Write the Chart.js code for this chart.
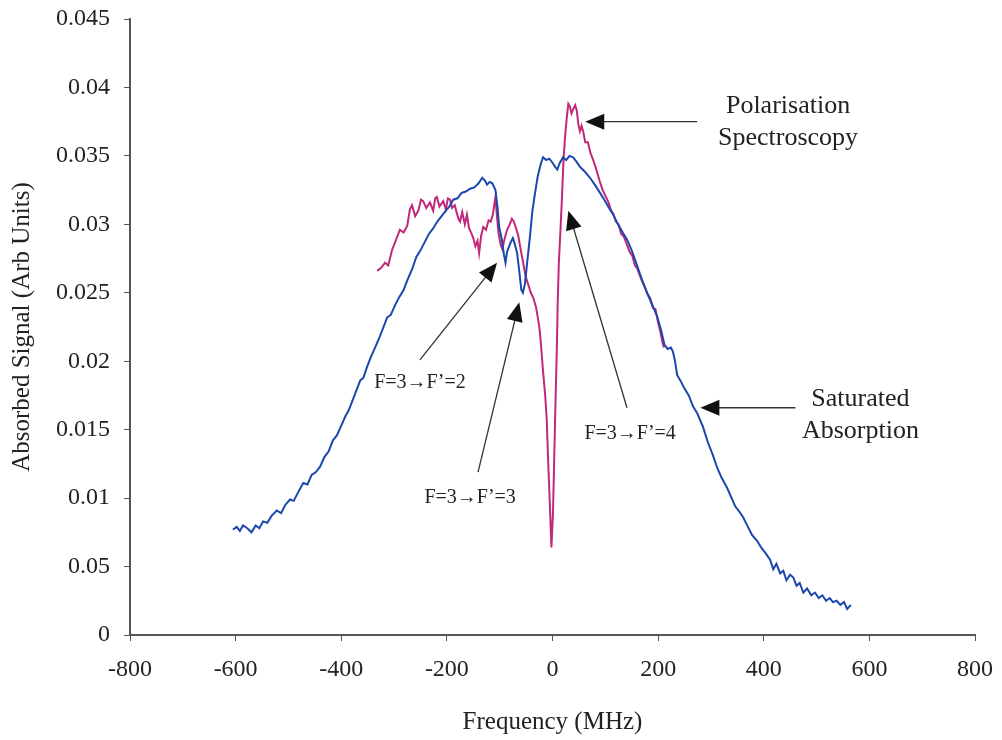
<!DOCTYPE html>
<html lang="en">
<head>
  <meta charset="UTF-8" />
  <title>Saturated Absorption vs Polarisation Spectroscopy</title>
  <script src="https://cdn.jsdelivr.net/npm/chart.js"></script>
  <style>
    body {
      margin: 0;
      background: #ffffff;
    }
    .wrap {
      width: 1002px;
      height: 740px;
      position: relative;
    }
  </style>
</head>
<body>
  <div class="wrap">
    <canvas id="spectrum"></canvas>
  </div>

  <script>
    // values
    const satFreq = [
      -605, -598, -592, -586, -578, -570, -562, -555, -548, -540, -532, -522, -514, -506, -497, -490,
      -482, -472, -464, -456, -448, -440, -432, -424, -416, -408, -400, -392, -386, -378, -370, -364,
      -358, -351, -344, -336, -327, -320, -313, -306, -298, -290, -282, -275, -266, -258, -250, -242,
      -234, -226, -218, -210, -202, -195, -188, -180, -172, -164, -156, -148, -140, -133, -128, -124,
      -119, -114, -108, -104, -101, -96, -92, -89, -86, -83, -79, -75, -71, -67, -63, -59,
      -56, -52, -48, -43, -38, -33, -28, -23, -18, -12, -6, 0, 5, 9, 14, 20,
      26, 32, 39, 45, 52, 60, 71, 80, 90, 98, 107, 115, 124, 133, 141, 150,
      160, 170, 179, 188, 198, 206, 212, 218, 224, 228, 232, 236, 242, 250, 258, 266,
      274, 285, 294, 304, 312, 320, 330, 338, 346, 354, 361, 370, 378, 387, 395, 403,
      412, 418, 424, 431, 437, 443, 450, 456, 462, 468, 475, 482, 490, 497, 504, 511,
      518, 525, 531, 538, 545, 552, 558, 565
    ];
    const satSignal = [
      0.0077, 0.0079, 0.0076, 0.0080, 0.0078, 0.0075, 0.0080, 0.0078, 0.0083, 0.0082, 0.0087, 0.0091, 0.0089, 0.0095, 0.0099, 0.0098,
      0.0104, 0.0111, 0.0110, 0.0117, 0.0119, 0.0123, 0.0130, 0.0134, 0.0142, 0.0146, 0.0153, 0.0160, 0.0164, 0.0172, 0.0180, 0.0186,
      0.0188, 0.0196, 0.0203, 0.0210, 0.0218, 0.0225, 0.0232, 0.0234, 0.0241, 0.0247, 0.0252, 0.0259, 0.0267, 0.0276, 0.0281, 0.0287,
      0.0293, 0.0297, 0.0302, 0.0306, 0.0310, 0.0313, 0.0318, 0.0319, 0.0323, 0.0324, 0.0326, 0.0327, 0.0330, 0.0334, 0.0332, 0.0329,
      0.0331, 0.0330, 0.0325, 0.0312, 0.0298, 0.0289, 0.0278, 0.0272, 0.0280, 0.0283, 0.0287, 0.0290, 0.0285, 0.0279, 0.0266, 0.0252,
      0.0250, 0.0257, 0.0272, 0.0290, 0.0310, 0.0323, 0.0335, 0.0343, 0.0349, 0.0347, 0.0348, 0.0345, 0.0342, 0.0340, 0.0345, 0.0349,
      0.0347, 0.0350, 0.0349, 0.0346, 0.0342, 0.0339, 0.0334, 0.0329, 0.0323, 0.0318, 0.0312, 0.0307, 0.0300, 0.0294, 0.0289, 0.0281,
      0.0270, 0.0259, 0.0250, 0.0242, 0.0233, 0.0222, 0.0212, 0.0209, 0.0210, 0.0207, 0.0200, 0.0190, 0.0186, 0.0180, 0.0175, 0.0167,
      0.0162, 0.0152, 0.0141, 0.0131, 0.0122, 0.0115, 0.0108, 0.0101, 0.0094, 0.0090, 0.0086, 0.0079, 0.0073, 0.0069, 0.0064, 0.0060,
      0.0055, 0.0048, 0.0052, 0.0045, 0.0047, 0.0040, 0.0044, 0.0042, 0.0036, 0.0038, 0.0031, 0.0034, 0.0029, 0.0031, 0.0027, 0.0029,
      0.0025, 0.0027, 0.0024, 0.0025, 0.0022, 0.0024, 0.0019, 0.0022
    ];

    const polFreq = [
      -332, -325, -317, -311, -304, -297, -289, -282, -275, -270, -266, -260, -254, -249, -245, -239,
      -232, -226, -222, -219, -214, -207, -202, -198, -194, -190, -185, -181, -178, -175, -171, -166,
      -162, -158, -154, -150, -146, -142, -139, -135, -131, -126, -121, -117, -113, -110, -108, -105,
      -102, -98, -95, -91, -86, -81, -77, -73, -69, -65, -60, -56, -51, -46, -41, -36,
      -31, -27, -24, -21, -18, -14, -11, -8, -5, -2, 1, 3, 6, 8, 10, 12,
      15, 18, 21, 24, 27, 30, 33, 36, 39, 43, 46, 49, 52, 55, 58, 62,
      67, 72, 78, 83, 89, 95, 100, 106, 111, 115, 120, 125, 130, 135, 140, 146,
      151, 156, 160, 165, 170, 175, 180, 185, 190, 195, 200, 204, 208, 211
    ];
    const polSignal = [
      0.0266, 0.0268, 0.0272, 0.0270, 0.0281, 0.0288, 0.0296, 0.0294, 0.0299, 0.0311, 0.0314, 0.0306, 0.0310, 0.0318, 0.0317, 0.0312,
      0.0316, 0.0310, 0.0319, 0.0320, 0.0313, 0.0317, 0.0311, 0.0319, 0.0318, 0.0312, 0.0314, 0.0308, 0.0304, 0.0302, 0.0309, 0.0300,
      0.0307, 0.0297, 0.0294, 0.0290, 0.0284, 0.0288, 0.0279, 0.0292, 0.0298, 0.0296, 0.0303, 0.0302, 0.0307, 0.0315, 0.0320, 0.0305,
      0.0293, 0.0285, 0.0282, 0.0289, 0.0296, 0.0300, 0.0304, 0.0302, 0.0297, 0.0292, 0.0281, 0.0273, 0.0262, 0.0256, 0.0250, 0.0246,
      0.0239, 0.0230, 0.0222, 0.0208, 0.0193, 0.0176, 0.0158, 0.0125, 0.0095, 0.0064, 0.0090, 0.0125, 0.0175, 0.0205, 0.0245, 0.0272,
      0.0295, 0.0320, 0.0348, 0.0365, 0.0378, 0.0388, 0.0386, 0.0381, 0.0384, 0.0387, 0.0383, 0.0373, 0.0368, 0.0372, 0.0368, 0.0360,
      0.0360, 0.0352, 0.0346, 0.0340, 0.0332, 0.0325, 0.0321, 0.0316, 0.0310, 0.0308, 0.0302, 0.0300, 0.0293, 0.0291, 0.0286, 0.0280,
      0.0277, 0.0270, 0.0268, 0.0263, 0.0258, 0.0254, 0.0249, 0.0246, 0.0239, 0.0238, 0.0228, 0.0222, 0.0214, 0.0210
    ];

    // the original figure prints "0.05" where 0.005 belongs, kept as is
    const yTickLabels = ['0', '0.05', '0.01', '0.015', '0.02', '0.025', '0.03', '0.035', '0.04', '0.045'];

    const toPoints = (xs, ys) => xs.map((x, i) => ({ x: x, y: ys[i] }));

    // text and arrows, in data units
    const notes = [
      { lines: ['Polarisation', 'Spectroscopy'], x: 446, y: 0.0386, size: 26, from: [274, 0.0375], to: [62, 0.0375] },
      { lines: ['Saturated', 'Absorption'], x: 583, y: 0.0172, size: 26, from: [460, 0.0166], to: [280, 0.0166] },
      { lines: ['F=3\u2192F\u2019=2'], x: -251, y: 0.0184, size: 20, from: [-251, 0.0201], to: [-105, 0.0272] },
      { lines: ['F=3\u2192F\u2019=3'], x: -156, y: 0.0100, size: 20, from: [-141, 0.0119], to: [-63, 0.0243] },
      { lines: ['F=3\u2192F\u2019=4'], x: 147, y: 0.0147, size: 20, from: [141, 0.0166], to: [30, 0.0310] }
    ];

    const serif = "'Liberation Serif', 'Times New Roman', serif";

    const notesPlugin = {
      id: 'notes',
      afterDatasetsDraw(chart) {
        const ctx = chart.ctx;
        const xs = chart.scales.x, ys = chart.scales.y;
        ctx.save();
        notes.forEach(n => {
          const x1 = xs.getPixelForValue(n.from[0]), y1 = ys.getPixelForValue(n.from[1]);
          const x2 = xs.getPixelForValue(n.to[0]), y2 = ys.getPixelForValue(n.to[1]);
          const ang = Math.atan2(y2 - y1, x2 - x1);
          const head = 19, half = 8;
          ctx.strokeStyle = '#333';
          ctx.lineWidth = 1.3;
          ctx.beginPath();
          ctx.moveTo(x1, y1);
          ctx.lineTo(x2 - Math.cos(ang) * head * 0.8, y2 - Math.sin(ang) * head * 0.8);
          ctx.stroke();
          ctx.fillStyle = '#111';
          ctx.beginPath();
          ctx.moveTo(x2, y2);
          ctx.lineTo(x2 - Math.cos(ang) * head - Math.sin(ang) * half, y2 - Math.sin(ang) * head + Math.cos(ang) * half);
          ctx.lineTo(x2 - Math.cos(ang) * head + Math.sin(ang) * half, y2 - Math.sin(ang) * head - Math.cos(ang) * half);
          ctx.closePath();
          ctx.fill();

          ctx.font = n.size + 'px ' + serif;
          ctx.fillStyle = '#222';
          ctx.textAlign = 'center';
          ctx.textBaseline = 'middle';
          const cx = xs.getPixelForValue(n.x), cy = ys.getPixelForValue(n.y);
          n.lines.forEach((t, i) => ctx.fillText(t, cx, cy + i * n.size * 1.2));
        });
        ctx.restore();
      }
    };

    new Chart(document.getElementById('spectrum'), {
      type: 'scatter',
      data: {
        datasets: [
          {
            label: 'Saturated Absorption',
            data: toPoints(satFreq, satSignal),
            showLine: true,
            borderColor: '#1c47ad',
            borderWidth: 2,
            pointRadius: 0,
            tension: 0
          },
          {
            label: 'Polarisation Spectroscopy',
            data: toPoints(polFreq, polSignal),
            showLine: true,
            borderColor: '#c2287a',
            borderWidth: 2,
            pointRadius: 0,
            tension: 0
          }
        ]
      },
      options: {
        responsive: true,
        maintainAspectRatio: false,
        animation: false,
        layout: { padding: { top: 19, right: 27, left: 0, bottom: 0 } },
        plugins: {
          legend: { display: false },
          tooltip: { enabled: false }
        },
        scales: {
          x: {
            type: 'linear',
            min: -800,
            max: 800,
            afterFit: s => { s.height = 105; s.paddingLeft = 0; s.paddingRight = 0; },
            ticks: {
              stepSize: 200,
              color: '#222',
              padding: 14,
              font: { family: serif, size: 24 }
            },
            grid: { drawOnChartArea: false, drawTicks: true, tickLength: 6, color: '#555' },
            border: { color: '#555', width: 2 },
            title: {
              display: true,
              text: 'Frequency (MHz)',
              color: '#222',
              font: { family: serif, size: 25 },
              padding: { top: 0, bottom: 3 }
            }
          },
          y: {
            type: 'linear',
            min: 0,
            max: 0.045,
            afterFit: s => { s.width = 130; s.paddingTop = 0; s.paddingBottom = 0; },
            ticks: {
              stepSize: 0.005,
              color: '#222',
              padding: 14,
              font: { family: serif, size: 24 },
              callback: (v, i) => yTickLabels[i]
            },
            grid: { drawOnChartArea: false, drawTicks: true, tickLength: 6, color: '#555' },
            border: { color: '#555', width: 2 },
            title: {
              display: true,
              text: 'Absorbed Signal (Arb Units)',
              color: '#222',
              font: { family: serif, size: 25 },
              padding: { top: 7, bottom: 0 }
            }
          }
        }
      },
      plugins: [notesPlugin]
    });
  </script>
</body>
</html>
